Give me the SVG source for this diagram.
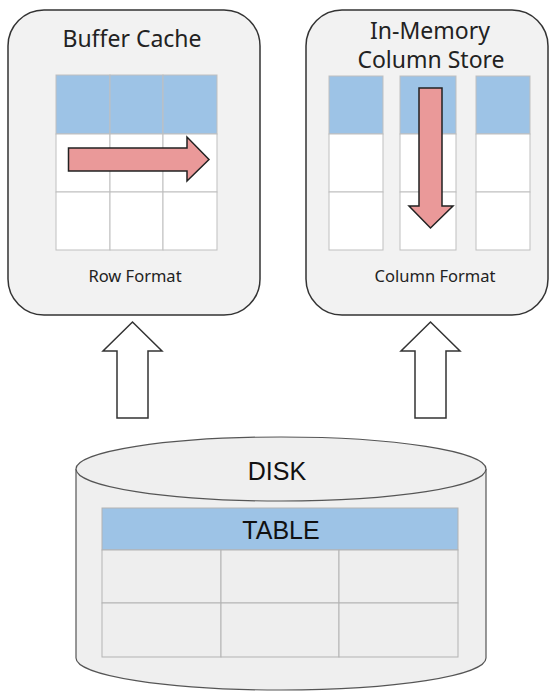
<svg xmlns="http://www.w3.org/2000/svg" width="553" height="691" viewBox="0 0 553 691">
  <style>
    .box { fill: #f2f2f2; stroke: #333333; stroke-width: 1.5; }
    .hdr { fill: #9dc3e6; stroke: #bfbfbf; stroke-width: 1; }
    .cell { fill: #ffffff; stroke: #bfbfbf; stroke-width: 1; }
    .dcell { fill: #eeeeee; stroke: #b3b3b3; stroke-width: 1; }
    .scan { fill: #ea9999; stroke: #222222; stroke-width: 1.5; stroke-linejoin: miter; }
    .flow { fill: #ffffff; stroke: #333333; stroke-width: 1.5; }
    .cyl { fill: #efefef; stroke: #555555; stroke-width: 1.2; }
    .title { font-family: "Noto Sans", "Open Sans", sans-serif; font-size: 23px; fill: #222222; text-anchor: middle; }
    .cap { font-family: "Noto Sans", "Open Sans", sans-serif; font-size: 16.5px; fill: #222222; text-anchor: middle; }
    .big { font-family: "Liberation Sans", Arial, sans-serif; font-size: 25px; fill: #111111; text-anchor: middle; }
  </style>

  <!-- Buffer cache: row-oriented layout -->
  <g id="buffer-cache">
    <rect class="box" x="8" y="10" width="252" height="305" rx="36" ry="36"/>
    <text class="title" x="132" y="47">Buffer Cache</text>
    <rect class="hdr" x="56" y="75" width="54" height="59"/>
    <rect class="hdr" x="110" y="75" width="53" height="59"/>
    <rect class="hdr" x="163" y="75" width="54" height="59"/>
    <rect class="cell" x="56" y="134" width="54" height="58"/>
    <rect class="cell" x="110" y="134" width="53" height="58"/>
    <rect class="cell" x="163" y="134" width="54" height="58"/>
    <rect class="cell" x="56" y="192" width="54" height="58"/>
    <rect class="cell" x="110" y="192" width="53" height="58"/>
    <rect class="cell" x="163" y="192" width="54" height="58"/>
    <path class="scan" d="M68.5,148 L187,148 L187,137 L209,159.5 L187,181 L187,171 L68.5,171 Z"/>
    <text class="cap" x="135" y="281.5">Row Format</text>
  </g>

  <!-- In-memory column store: column-oriented layout -->
  <g id="column-store">
    <rect class="box" x="306" y="10" width="242" height="305" rx="36" ry="36"/>
    <text class="title" x="430" y="39">In-Memory</text>
    <text class="title" x="431" y="68">Column Store</text>
    <rect class="hdr" x="329" y="76" width="54" height="58"/>
    <rect class="cell" x="329" y="134" width="54" height="58"/>
    <rect class="cell" x="329" y="192" width="54" height="58"/>
    <rect class="hdr" x="400" y="76" width="56" height="58"/>
    <rect class="cell" x="400" y="134" width="56" height="58"/>
    <rect class="cell" x="400" y="192" width="56" height="58"/>
    <rect class="hdr" x="476" y="76" width="54" height="58"/>
    <rect class="cell" x="476" y="134" width="54" height="58"/>
    <rect class="cell" x="476" y="192" width="54" height="58"/>
    <path class="scan" d="M419,88 L442,88 L442,206 L453,206 L430.5,228 L409,206 L419,206 Z"/>
    <text class="cap" x="435" y="281.5">Column Format</text>
  </g>

  <!-- Disk with the on-disk table -->
  <g id="disk">
    <path class="cyl" d="M76,469 L76,658 A205,32 0 0 0 486,658 L486,469"/>
    <ellipse class="cyl" cx="281" cy="469" rx="205" ry="32"/>
    <text class="big" x="277" y="480">DISK</text>
    <rect class="hdr" x="102" y="508" width="356" height="42" style="stroke:#b3b3b3"/>
    <text class="big" x="281" y="539">TABLE</text>
    <rect class="dcell" x="102" y="550" width="119" height="53"/>
    <rect class="dcell" x="221" y="550" width="118" height="53"/>
    <rect class="dcell" x="339" y="550" width="119" height="53"/>
    <rect class="dcell" x="102" y="603" width="119" height="54"/>
    <rect class="dcell" x="221" y="603" width="118" height="54"/>
    <rect class="dcell" x="339" y="603" width="119" height="54"/>
  </g>

  <!-- Load paths from disk into memory -->
  <g id="connectors">
    <path class="flow" d="M117,418 L117,351 L103,351 L132.5,322 L162,351 L148,351 L148,418 Z"/>
    <path class="flow" d="M415,418 L415,351 L401,351 L430.5,322 L460,351 L446,351 L446,418 Z"/>
  </g>
</svg>
